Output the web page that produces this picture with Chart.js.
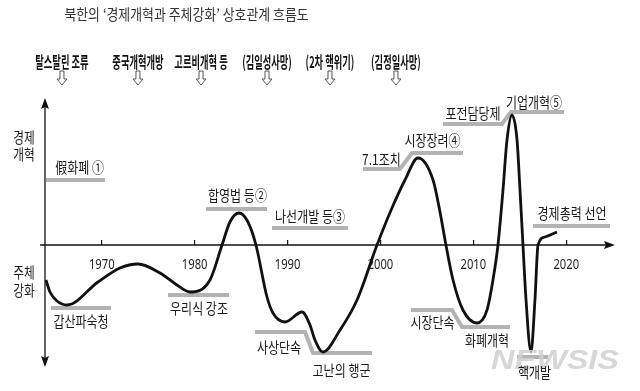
<!DOCTYPE html>
<html><head><meta charset="utf-8">
<style>html,body{margin:0;padding:0;background:#fff}canvas{display:block}</style>
<script src="https://cdn.jsdelivr.net/npm/chart.js@4.4.1/dist/chart.umd.min.js"></script>
</head><body>
<canvas id="c" width="640" height="391"></canvas>
<script>
// ---------- data ----------
const titleText = "북한의 ‘경제개혁과 주체강화’ 상호관계 흐름도";
const years = [1964.0, 1964.43, 1965.19, 1966.26, 1969.6, 1971.97, 1973.9, 1976.27, 1978.1, 1979.5,
  1981.65, 1982.95, 1983.8, 1984.78, 1985.74, 1986.6, 1987.79, 1988.43, 1989.73, 1991.56,
  1992.42, 1992.95, 1993.82, 1995.65, 1997.48, 1999.63, 2001.24, 2002.64, 2004.04, 2005.66,
  2006.41, 2007.05, 2007.81, 2008.88, 2010.39, 2011.47, 2012.11, 2012.65, 2013.19, 2013.62,
  2014.16, 2014.7, 2015.02, 2015.34, 2015.67, 2016.2, 2016.63, 2016.96, 2017.71, 2019.0];
const values = [-3.5, -4.7, -5.6, -6.0, -3.7, -2.3, -1.9, -2.8, -4.0, -4.7,
  -3.5, 0, 2.3, 3.2, 2.3, 0, -5.2, -6.8, -7.7, -6.7,
  -8.0, -9.5, -10.7, -8.5, -5.5, 0, 3.7, 6.5, 8.7, 6.5,
  3.3, 0, -3.5, -6.5, -7.8, -6.5, -3.5, 0, 5.5, 10.5,
  13.0, 10.5, 5.5, 0, -5.5, -10.7, -5.5, 0, 0.8, 1.3];
const tickYears = [1970, 1980, 1990, 2000, 2010, 2020];
const tickLabels = ['1970', '1980', '1990', '2000', '2010', '2020'];
const topEvents = ['탈스탈린 조류', '중국개혁개방', '고르비개혁 등', '(김일성사망)', '(2차 핵위기)', '(김정일사망)'];
const notes = ['假화폐 ①', '합영법 등②', '나선개발 등③', '7.1조치', '시장장려④', '포전담당제', '기업개혁⑤',
  '경제총력 선언', '갑산파숙청', '우리식 강조', '사상단속', '고난의 행군', '시장단속', '화폐개혁', '핵개발'];
const axisNames = ['경제', '개혁', '주체', '강화'];
const watermark = 'NEWSIS';

// ---------- layout (anchors in data units: [year, value]) ----------
const xRange = [1963.895, 2025.03];
const yRange = [-14.6, 14.9];
const topEventAt = [1965.72, 1973.90, 1980.69, 1987.79, 1994.57, 2001.67];
const topTextV = 18.3, topArrowV = 17.4, tickTextV = -2.0;
const noteAt = [[1967.61, 7.8], [1984.61, 5.0], [1992.42, 2.9], [2000.11, 8.6], [2005.60, 10.5],
  [2009.96, 13.2], [2016.53, 14.3], [2020.62, 3.2], [1967.77, -7.6], [1980.47, -6.3],
  [1989.08, -10.2], [1995.81, -12.5], [2005.60, -7.7], [2011.47, -9.5], [2016.58, -12.7]];
const axisNameAt = [[1961.63, 10.8], [1961.63, 9.1], [1961.63, -2.7], [1961.63, -4.5]];
const barPaths = [
  [[1964.0, 6.5], [1970.35, 6.5]],
  [[1981.22, 3.6], [1987.79, 3.6]],
  [[1988.33, 1.7], [1996.51, 1.7]],
  [[1998.12, 7.6], [2002.10, 7.6], [2003.40, 9.2], [2008.88, 9.2]],
  [[2006.73, 12.1], [2013.08, 12.1], [2014.05, 13.3], [2019.76, 13.3]],
  [[2016.42, 1.9], [2024.71, 1.9]],
  [[1964.54, -6.3], [1971.0, -6.3]],
  [[1977.13, -5.0], [1983.70, -5.0]],
  [[1986.5, -8.7], [1991.88, -8.7], [1992.74, -10.8], [1999.09, -10.8]],
  [[2003.29, -6.5], [2007.70, -6.5], [2008.78, -8.2], [2013.94, -8.2]],
  [[2014.70, -11.2], [2018.03, -11.2]]
];
const yAxisEnds = [14.7, -12.2];
const xAxisEnds = [1963.36, 2025.24];
const watermarkAt = [2018.79, -11.7];

const KR = '"Noto Sans CJK KR", "Noto Sans", sans-serif';

function txt(ctx, s, x, y, o) {
  ctx.save();
  ctx.font = (o.weight || 400) + ' ' + o.size + 'px ' + (o.family || KR);
  ctx.fillStyle = o.color || '#1a1a1a';
  ctx.textAlign = o.align || 'center';
  ctx.textBaseline = 'middle';
  ctx.translate(x, y);
  ctx.scale(o.sx || 1, 1);
  ctx.fillText(s, 0, 0);
  ctx.restore();
}

const deco = {
  id: 'deco',
  beforeDatasetsDraw(chart) {
    const ctx = chart.ctx, xs = chart.scales.x, ys = chart.scales.y;
    const px = v => xs.getPixelForValue(v), py = v => ys.getPixelForValue(v);
    // gray bars
    ctx.save();
    ctx.strokeStyle = '#b3b3b3';
    ctx.lineWidth = 4;
    ctx.lineJoin = 'miter';
    barPaths.forEach(p => {
      ctx.beginPath();
      p.forEach((pt, i) => i ? ctx.lineTo(px(pt[0]), py(pt[1])) : ctx.moveTo(px(pt[0]), py(pt[1])));
      ctx.stroke();
    });
    ctx.restore();
    // axes
    ctx.save();
    ctx.strokeStyle = '#111'; ctx.fillStyle = '#111'; ctx.lineWidth = 1.3;
    const ax = xs.left, y0 = py(0);
    const yt = py(yAxisEnds[0]), yb = py(yAxisEnds[1]);
    ctx.beginPath(); ctx.moveTo(ax, yt + 4); ctx.lineTo(ax, yb - 4); ctx.stroke();
    ctx.beginPath(); ctx.moveTo(ax, yt); ctx.lineTo(ax - 4, yt + 11); ctx.lineTo(ax, yt + 9); ctx.lineTo(ax + 4, yt + 11); ctx.closePath(); ctx.fill();
    ctx.beginPath(); ctx.moveTo(ax, yb); ctx.lineTo(ax - 4, yb - 11); ctx.lineTo(ax, yb - 9); ctx.lineTo(ax + 4, yb - 11); ctx.closePath(); ctx.fill();
    const xl = px(xAxisEnds[0]), xr = px(xAxisEnds[1]);
    ctx.beginPath(); ctx.moveTo(xl, y0); ctx.lineTo(xr - 4, y0); ctx.stroke();
    ctx.beginPath(); ctx.moveTo(xr, y0); ctx.lineTo(xr - 11, y0 - 4); ctx.lineTo(xr - 9, y0); ctx.lineTo(xr - 11, y0 + 4); ctx.closePath(); ctx.fill();
    ctx.restore();
    // tick labels (condensed, placed through the x scale)
    tickYears.forEach((v, i) => txt(ctx, tickLabels[i], px(v), py(tickTextV), {size: 14, family: '"Noto Sans", sans-serif', sx: 0.8, color: '#222'}));
  },
  afterDatasetsDraw(chart) {
    const ctx = chart.ctx, xs = chart.scales.x, ys = chart.scales.y;
    const px = v => xs.getPixelForValue(v), py = v => ys.getPixelForValue(v);
    // watermark
    ctx.save();
    ctx.globalAlpha = 0.85;
    txt(ctx, watermark, px(watermarkAt[0]), py(watermarkAt[1]), {size: 27, weight: 'italic bold', family: '"Liberation Sans", sans-serif', color: '#d0d0d0', sx: 1.2});
    ctx.restore();
    // title
    txt(ctx, titleText, 186.5, 14, {size: 15, sx: 0.86, color: '#333'});
    // top events + hollow arrows
    topEvents.forEach((s, i) => {
      const x = px(topEventAt[i]);
      txt(ctx, s, x, py(topTextV), {size: 16, weight: 700, sx: 0.58, color: '#111'});
      const t = py(topArrowV);
      ctx.save();
      ctx.strokeStyle = '#555'; ctx.lineWidth = 1;
      ctx.beginPath();
      ctx.moveTo(x - 2, t); ctx.lineTo(x + 2, t); ctx.lineTo(x + 2, t + 8); ctx.lineTo(x + 5, t + 8);
      ctx.lineTo(x, t + 14); ctx.lineTo(x - 5, t + 8); ctx.lineTo(x - 2, t + 8); ctx.closePath();
      ctx.stroke();
      ctx.restore();
    });
    // notes
    notes.forEach((s, i) => txt(ctx, s, px(noteAt[i][0]), py(noteAt[i][1]), {size: 15, sx: 0.8}));
    axisNames.forEach((s, i) => txt(ctx, s, px(axisNameAt[i][0]), py(axisNameAt[i][1]), {size: 15, sx: 0.78}));
  }
};

new Chart(document.getElementById('c'), {
  type: 'line',
  data: {
    datasets: [{
      data: years.map((y, i) => ({x: y, y: values[i]})),
      borderColor: '#111', borderWidth: 2.8, pointRadius: 0, fill: false,
      cubicInterpolationMode: 'monotone'
    }]
  },
  options: {
    responsive: false, animation: false, devicePixelRatio: 1,
    layout: {padding: {left: 45, right: 27, top: 96, bottom: 0}},
    plugins: {legend: {display: false}, tooltip: {enabled: false}, title: {display: false}},
    scales: {
      x: {
        type: 'linear', min: xRange[0], max: xRange[1], position: {y: 0},
        afterBuildTicks: s => { s.ticks = tickYears.map(v => ({value: v})); },
        ticks: {display: false, maxRotation: 0, autoSkip: false},
        grid: {display: true, drawOnChartArea: false, drawTicks: true, tickLength: -5, color: '#111', lineWidth: 1.2},
        border: {display: false}
      },
      y: {display: false, min: yRange[0], max: yRange[1]}
    }
  },
  plugins: [deco]
});
</script>
</body></html>
